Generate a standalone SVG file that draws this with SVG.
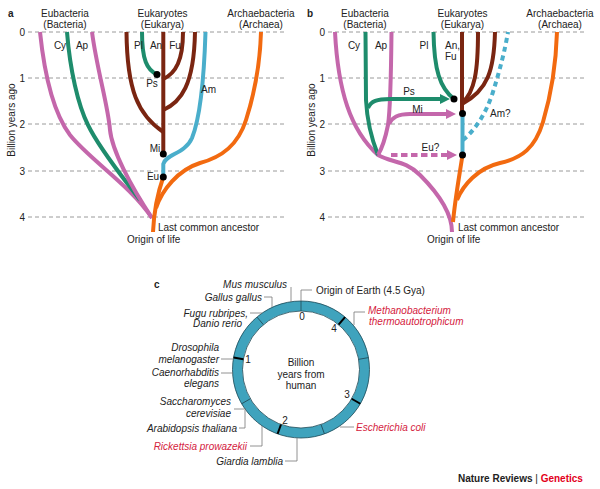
<svg xmlns="http://www.w3.org/2000/svg" width="600" height="489" viewBox="0 0 600 489">
<style>
text{font-family:"Liberation Sans",Arial,sans-serif;font-size:10px;fill:#222}
.b{font-weight:bold}
.m{text-anchor:middle}
.e{text-anchor:end}
.i{font-style:italic}
.r{fill:#d4213d}
.grid{stroke:#9a9a9a;stroke-width:1;stroke-dasharray:4 3;fill:none}
.br{fill:none;stroke-width:4;stroke-linecap:butt}
.pk{stroke:#c467ab}
.gn{stroke:#1e8c6c}
.bn{stroke:#7a2511}
.bl{stroke:#4aaecb}
.or{stroke:#f26a10}
.dot{fill:#000}
.lead{fill:none;stroke:#777;stroke-width:0.8}
.tk{stroke:#000;stroke-width:2}
.tn{stroke:#1f4a57;stroke-width:0.8}
</style>
<defs>
<marker id="ag" viewBox="0 0 10 10" refX="0" refY="5" markerWidth="10" markerHeight="10" markerUnits="userSpaceOnUse" orient="auto"><path d="M0,0 L10,5 L0,10 z" fill="#1e8c6c"/></marker>
<marker id="ap" viewBox="0 0 10 10" refX="0" refY="5" markerWidth="10" markerHeight="10" markerUnits="userSpaceOnUse" orient="auto"><path d="M0,0 L10,5 L0,10 z" fill="#c467ab"/></marker>
</defs>

<!-- Panel a -->
<g id="panel-a-axes">
<text class="b" x="8" y="17">a</text>
<path class="grid" d="M28,32H287M28,78H287M28,124H287M28,171H287M28,217H287"/>
<text class="e" x="25" y="35.5">0</text>
<text class="e" x="25" y="81.5">1</text>
<text class="e" x="25" y="127.5">2</text>
<text class="e" x="25" y="174.5">3</text>
<text class="e" x="25" y="220.5">4</text>
<text class="m" transform="translate(15,120) rotate(-90)">Billion years ago</text>
<text class="m" x="65" y="17">Eubacteria</text>
<text class="m" x="65" y="28">(Bacteria)</text>
<text class="m" x="162.5" y="17">Eukaryotes</text>
<text class="m" x="162.5" y="28">(Eukarya)</text>
<text class="m" x="261" y="17">Archaebacteria</text>
<text class="m" x="261" y="28">(Archaea)</text>
</g>
<g id="connectors-a">
<path class="br pk" d="M40,32 C45,80 55,115 70,135 C90,160 130,185 152,218"/>
<path class="br gn" d="M67,32 C70,70 78,105 88,125 C100,150 125,180 140,200"/>
<path class="br pk" d="M92,32 C97,70 108,105 110,130 C112,150 130,185 152,218"/>
<path class="br or" d="M153,232 C154,210 158,192 163.3,177"/>
<path class="br or" d="M156,208 C162,190 178,170 200,163 C222,157 238,145 246,120 C254,95 260,65 261,32"/>
<path class="br bl" d="M205.5,32 C204,80 200,118 192,138 C185,154 166,154 163.3,164 L163.3,177"/>
<path class="br bn" d="M163.3,32 V154"/>
<path class="br bn" d="M126.5,32 C127,90 138,115 163.3,132"/>
<path class="br bn" d="M163.3,79 C176,73 183,60 183,32"/>
<path class="br bn" d="M163.3,110 C181,102 194,85 195,32"/>
<path class="br gn" d="M142,32 C142,60 147,70 157,74.5"/>
</g>
<g id="nodes-a">
<circle class="dot" cx="157" cy="74.5" r="3.5"/>
<circle class="dot" cx="163.3" cy="154" r="3.5"/>
<circle class="dot" cx="163.3" cy="177" r="3.5"/>
<text class="m" x="60" y="48.5">Cy</text>
<text class="m" x="82" y="48.5">Ap</text>
<text class="m" x="138.5" y="48.5">Pl</text>
<text class="m" x="156" y="48.5">An</text>
<text class="m" x="175" y="48.5">Fu</text>
<text class="m" x="152" y="86.5">Ps</text>
<text class="m" x="208.5" y="92.5">Am</text>
<text class="m" x="155" y="151.5">Mi</text>
<text class="m" x="153" y="179.5">Eu</text>
<text x="158" y="231">Last common ancestor</text>
<text x="127" y="243">Origin of life</text>
</g>

<!-- Panel b -->
<g id="panel-b-axes">
<text class="b" x="307" y="17">b</text>
<path class="grid" d="M328,32H587M328,78H587M328,124H587M328,171H587M328,217H587"/>
<text class="e" x="325" y="35.5">0</text>
<text class="e" x="325" y="81.5">1</text>
<text class="e" x="325" y="127.5">2</text>
<text class="e" x="325" y="174.5">3</text>
<text class="e" x="325" y="220.5">4</text>
<text class="m" transform="translate(315,120) rotate(-90)">Billion years ago</text>
<text class="m" x="365" y="17">Eubacteria</text>
<text class="m" x="365" y="28">(Bacteria)</text>
<text class="m" x="462.5" y="17">Eukaryotes</text>
<text class="m" x="462.5" y="28">(Eukarya)</text>
<text class="m" x="560" y="17">Archaebacteria</text>
<text class="m" x="560" y="28">(Archaea)</text>
</g>
<g id="connectors-b">
<path class="br pk" d="M335,32 C338,90 350,130 378,155 C392,163 405,160 420,175 C438,193 452,212 452,232"/>
<path class="br gn" d="M365.5,32 L366,100 C367,120 372,140 378,155"/>
<path class="br pk" d="M391.5,32 C391,80 390,112 388,125 C385,140 381,150 378,155"/>
<path class="br gn" d="M368,108 C371,101 377,99 390,99 L440,99" marker-end="url(#ag)"/>
<path class="br pk" d="M389,124 C392,117 398,114 410,114 L446,114" marker-end="url(#ap)"/>
<path class="br pk" d="M391,155 L447,155" stroke-dasharray="6.5 3.5" marker-end="url(#ap)"/>
<path class="br or" d="M453,222 C455,200 459,178 462.5,155"/>
<path class="br or" d="M457,200 C463,185 478,168 500,163 C522,158 535,148 543,122 C551,95 556,65 557,32"/>
<path class="br bl" d="M462.5,113 V155"/>
<path class="br bl" d="M463,140 C475,130 485,115 492,95 C500,70 505,50 508,32" stroke-dasharray="5 4" stroke-width="4.5"/>
<path class="br bn" d="M462,32 V113"/>
<path class="br bn" d="M478,32 C478,70 475,92 462,103"/>
<path class="br bn" d="M495,32 C494,70 488,90 462,104"/>
<path class="br gn" d="M433.5,32 C434,70 440,88 454,99"/>
</g>
<g id="nodes-b">
<circle class="dot" cx="454" cy="99" r="3.5"/>
<circle class="dot" cx="462.5" cy="113.5" r="3.5"/>
<circle class="dot" cx="462.5" cy="155" r="3.5"/>
<text class="m" x="354" y="48.5">Cy</text>
<text class="m" x="381" y="48.5">Ap</text>
<text class="m" x="424" y="48.5">Pl</text>
<text x="445" y="48.5">An,</text>
<text x="445" y="60">Fu</text>
<text class="m" x="409" y="95">Ps</text>
<text class="m" x="417.5" y="112.5">Mi</text>
<text x="490" y="117">Am?</text>
<text class="m" x="430.5" y="150.5">Eu?</text>
<text x="458" y="231">Last common ancestor</text>
<text x="427" y="243">Origin of life</text>
</g>

<!-- Panel c -->
<g id="panel-c-ring">
<text class="b" x="154" y="288">c</text>
<circle cx="301" cy="369.5" r="63.5" fill="none" stroke="#3fa3bd" stroke-width="10"/>
<circle cx="301" cy="369.5" r="68.5" fill="none" stroke="#1f4a57" stroke-width="0.8"/>
<circle cx="301" cy="369.5" r="58.5" fill="none" stroke="#1f4a57" stroke-width="0.8"/>
<g transform="translate(301,369.5)">
<line class="tn" x1="0" y1="-58.5" x2="0" y2="-68.5"/>
<line class="tn" x1="0" y1="-58.5" x2="0" y2="-68.5" transform="rotate(-40)"/>
<line class="tk" x1="0" y1="-58.5" x2="0" y2="-68.5" transform="rotate(-80)"/>
<line class="tn" x1="0" y1="-58.5" x2="0" y2="-68.5" transform="rotate(-120)"/>
<line class="tk" x1="0" y1="-58.5" x2="0" y2="-68.5" transform="rotate(-160)"/>
<line class="tn" x1="0" y1="-58.5" x2="0" y2="-68.5" transform="rotate(-200)"/>
<line class="tk" x1="0" y1="-58.5" x2="0" y2="-68.5" transform="rotate(-240)"/>
<line class="tn" x1="0" y1="-58.5" x2="0" y2="-68.5" transform="rotate(-280)"/>
<line class="tk" x1="0" y1="-58.5" x2="0" y2="-68.5" transform="rotate(-320)"/>
</g>
<text class="m" x="302" y="320">0</text>
<text class="m" x="248" y="363">1</text>
<text class="m" x="285" y="424">2</text>
<text class="m" x="347" y="398">3</text>
<text class="m" x="334" y="332">4</text>
<text class="m" x="301" y="366">Billion</text>
<text class="m" x="301" y="378">years from</text>
<text class="m" x="301" y="389">human</text>
</g>
<g id="panel-c-leaders">
<path class="lead" d="M291,287 V302"/>
<path class="lead" d="M301,301 V290 H312"/>
<path class="lead" d="M264,297 H272 V307"/>
<path class="lead" d="M250,313 H262"/>
<path class="lead" d="M221,359 H234"/>
<path class="lead" d="M221,373 H233"/>
<path class="lead" d="M234,409 H246"/>
<path class="lead" d="M239,428 H245 V410"/>
<path class="lead" d="M250,446 H262 V426"/>
<path class="lead" d="M285,461 H297 V438"/>
<path class="lead" d="M340,427 H354"/>
<path class="lead" d="M354,325 V312 H365"/>
</g>
<g id="panel-c-labels">
<text class="i e" x="287" y="288">Mus musculus</text>
<text x="316" y="294">Origin of Earth (4.5 Gya)</text>
<text class="i e" x="262" y="300.5">Gallus gallus</text>
<text class="i e" x="248" y="316.5">Fugu rubripes,</text>
<text class="i e" x="242" y="327">Danio rerio</text>
<text class="i e" x="219" y="351">Drosophila</text>
<text class="i e" x="219" y="362.5">melanogaster</text>
<text class="i e" x="219" y="376">Caenorhabditis</text>
<text class="i e" x="219" y="387">elegans</text>
<text class="i e" x="231" y="405">Saccharomyces</text>
<text class="i e" x="231" y="416.5">cerevisiae</text>
<text class="i e" x="237" y="431.5">Arabidopsis thaliana</text>
<text class="i e r" x="247" y="449.5">Rickettsia prowazekii</text>
<text class="i e" x="283" y="464.5">Giardia lamblia</text>
<text class="i r" x="368" y="314">Methanobacterium</text>
<text class="i r" x="369" y="325">thermoautotrophicum</text>
<text class="i r" x="356" y="430.5">Escherichia coli</text>
</g>
<g id="credit">
<text class="b" x="458" y="481.5">Nature Reviews <tspan font-weight="normal">|</tspan> <tspan fill="#e3001b">Genetics</tspan></text>
</g>
</svg>
